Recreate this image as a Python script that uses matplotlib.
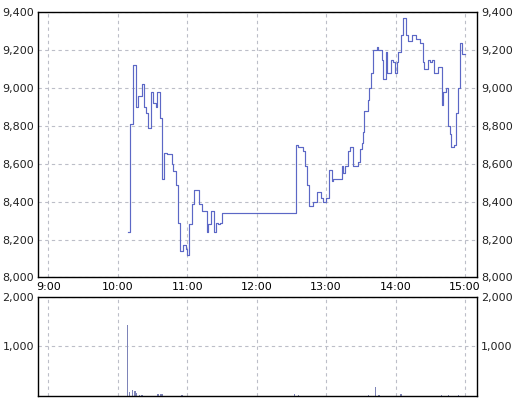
import matplotlib
matplotlib.use("Agg")
import matplotlib.pyplot as plt
import numpy as np

# minutes after 9:00 and price (step series)
t_min = [68.9, 70.6, 73.4, 75.8, 77.8, 80.7, 82.7, 84.4, 86.4, 88.5,
         90.7, 92.8, 94.2, 96.5, 98.5, 100.2, 102.3, 106.6, 108.0, 110.1,
         112.3, 113.8, 116.1, 119.0, 120.1, 121.8, 124.4, 126.1, 130.5, 132.5,
         136.8, 138.2, 140.3, 143.1, 144.9, 146.9, 148.3, 150.3, 213.7, 216.0,
         219.8, 221.8, 223.8, 225.5, 228.9, 231.9, 235.3, 237.6, 239.9, 242.8,
         244.8, 246.2, 253.5, 254.9, 256.3, 259.2, 260.6, 263.5, 267.3, 269.3,
         270.7, 271.6, 273.0, 275.9, 277.1, 278.8, 280.8, 283.7, 285.1, 288.0,
         289.4, 291.5, 292.9, 295.8, 297.5, 299.5, 301.0, 302.4, 304.4, 306.7,
         308.8, 311.0, 313.9, 317.4, 321.1, 323.4, 324.8, 327.8, 329.7, 331.2,
         333.2, 336.4, 339.9, 341.2, 343.3, 345.6, 347.0, 347.9, 350.5, 352.0,
         353.7, 355.7, 357.7, 360.0]
price = [8240, 8810, 9120, 8900, 8960, 9020, 8900, 8870, 8790, 8980,
         8920, 8900, 8980, 8840, 8520, 8660, 8650, 8600, 8560, 8490,
         8290, 8140, 8170, 8150, 8120, 8280, 8390, 8460, 8390, 8350,
         8240, 8280, 8350, 8240, 8290, 8280, 8290, 8340, 8700, 8690,
         8670, 8590, 8490, 8380, 8400, 8450, 8420, 8400, 8420, 8570,
         8510, 8520, 8590, 8550, 8590, 8670, 8690, 8590, 8610, 8680,
         8710, 8770, 8880, 8940, 9000, 9080, 9200, 9220, 9200, 9150,
         9050, 9190, 9080, 9150, 9140, 9080, 9140, 9190, 9280, 9370,
         9280, 9250, 9280, 9260, 9240, 9140, 9100, 9150, 9140, 9150,
         9080, 9110, 8910, 8980, 9000, 8800, 8760, 8690, 8700, 8870,
         9000, 9240, 9180, 9180]

vol_t = [68.6, 70.4, 72.7, 74.9, 76.4, 79.0, 81.0, 94.8, 97.5, 98.8,
         115.5, 212.5, 216.0, 276.4, 282.8, 285.7, 304.7, 339.9, 345.6, 354.2]
vol = [1430, 85, 120, 100, 55, 20, 20, 35, 35, 35,
       20, 40, 20, 20, 185, 20, 40, 20, 20, 20]

hour_labels = ["9:00", "10:00", "11:00", "12:00", "13:00", "14:00", "15:00"]
hour_pos = [0, 60, 120, 180, 240, 300, 360]
price_ticks = np.arange(8000, 9401, 200)
vol_ticks = [1000, 2000]

line_c = "#5c68c6"
bar_c = "#7e84b8"
grid_c = "#bcbec8"

fig = plt.figure(figsize=(5.18, 4.01), dpi=100)
ax = fig.add_axes([0.0734, 0.308, 0.8475, 0.661])
axv = fig.add_axes([0.0734, 0.0125, 0.8475, 0.2476])

xlim = (-8.9, 370.4)

ax.step(t_min, price, where="post", color=line_c, lw=0.85)
ax.set_xlim(*xlim)
ax.set_ylim(8000, 9400)
ax.set_xticks(hour_pos)
ax.set_xticklabels(hour_labels)
ax.set_yticks(price_ticks)
ax.set_yticklabels(["{:,}".format(v) for v in price_ticks])
ax.grid(True, color=grid_c, ls=(0, (3, 3)), lw=0.8)
ax.tick_params(length=0, labelsize=8, right=True, labelright=True)
ax.tick_params(axis="y", which="both", pad=3)
ax.tick_params(axis="x", pad=3)

axv.bar(vol_t, vol, width=1.2, color=bar_c, align="center")
axv.set_xlim(*xlim)
axv.set_ylim(0, 2000)
axv.set_xticks(hour_pos)
axv.set_xticklabels([])
axv.set_yticks(vol_ticks)
axv.set_yticklabels(["{:,}".format(v) for v in vol_ticks])
axv.grid(True, color=grid_c, ls=(0, (3, 3)), lw=0.8)
axv.tick_params(length=0, labelsize=8, right=True, labelright=True, pad=3)

for a in (ax, axv):
    a.set_axisbelow(True)
    for s in a.spines.values():
        s.set_color("black")
        s.set_linewidth(1.0)
    for lab in a.get_yticklabels():
        lab.set_color("#222222")

fig.savefig("out.png", dpi=100)
